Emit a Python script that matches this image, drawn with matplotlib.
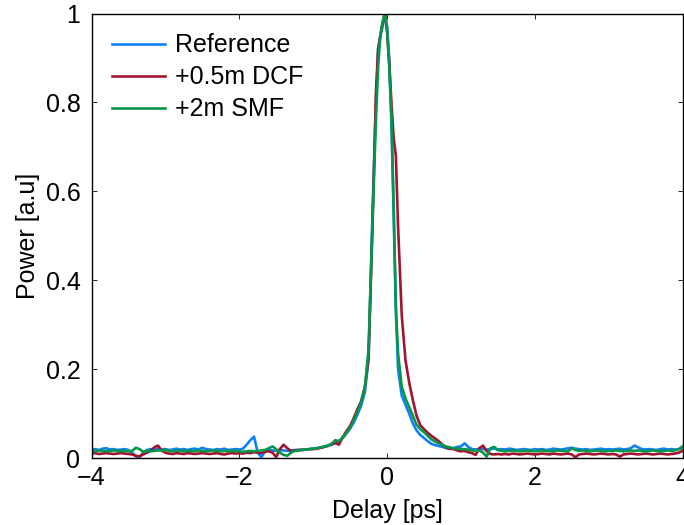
import matplotlib
matplotlib.use("Agg")
import matplotlib.pyplot as plt
import numpy as np

plt.rcParams['font.family'] = ['Liberation Sans', 'DejaVu Sans']

# ---- data ----
delay_left = [-4.00, -3.95, -3.90, -3.85, -3.80, -3.75, -3.70, -3.65, -3.60, -3.55,
              -3.50, -3.45, -3.40, -3.35, -3.30, -3.25, -3.20, -3.15, -3.10, -3.05,
              -3.00, -2.95, -2.90, -2.85, -2.80, -2.75, -2.70, -2.65, -2.60, -2.55,
              -2.50, -2.45, -2.40, -2.35, -2.30, -2.25, -2.20, -2.15, -2.10, -2.05,
              -2.00, -1.95, -1.90, -1.85, -1.80, -1.75, -1.70, -1.65, -1.60, -1.55,
              -1.50, -1.45, -1.40, -1.35, -1.30, -1.25, -1.20, -1.15, -1.10, -1.05]
delay_mid = [-1.00, -0.95, -0.90, -0.85, -0.80, -0.75, -0.70, -0.65, -0.60, -0.55,
             -0.50, -0.45, -0.40, -0.35, -0.30, -0.25, -0.20,
             -0.15, -0.12, -0.09, -0.06, -0.03, 0.00, 0.03, 0.06, 0.09, 0.12, 0.15,
             0.20, 0.25, 0.30, 0.35, 0.40, 0.45, 0.50, 0.55, 0.60, 0.65, 0.70,
             0.75, 0.80, 0.85, 0.90, 0.95, 1.00]
delay_right = [1.05, 1.10, 1.15, 1.20, 1.25, 1.30, 1.35, 1.40, 1.45, 1.50,
               1.55, 1.60, 1.65, 1.70, 1.75, 1.80, 1.85, 1.90, 1.95, 2.00,
               2.05, 2.10, 2.15, 2.20, 2.25, 2.30, 2.35, 2.40, 2.45, 2.50,
               2.55, 2.60, 2.65, 2.70, 2.75, 2.80, 2.85, 2.90, 2.95, 3.00,
               3.05, 3.10, 3.15, 3.20, 3.25, 3.30, 3.35, 3.40, 3.45, 3.50,
               3.55, 3.60, 3.65, 3.70, 3.75, 3.80, 3.85, 3.90, 3.95, 4.00]

reference = [
    0.019, 0.020, 0.018, 0.021, 0.022, 0.019, 0.020, 0.018, 0.019, 0.020,
    0.018, 0.012, 0.004, 0.002, 0.012, 0.018, 0.020, 0.019, 0.021, 0.019,
    0.020, 0.018, 0.019, 0.021, 0.019, 0.020, 0.018, 0.020, 0.021, 0.019,
    0.023, 0.020, 0.019, 0.018, 0.020, 0.019, 0.021, 0.018, 0.019, 0.020,
    0.019, 0.021, 0.030, 0.040, 0.048, 0.012, 0.002, 0.015, 0.018, 0.017,
    0.016, 0.018, 0.017, 0.016, 0.017, 0.018, 0.018, 0.019, 0.019, 0.020,
    # mid
    0.021, 0.022, 0.023, 0.025, 0.027, 0.030, 0.033, 0.038, 0.045, 0.055,
    0.066, 0.080, 0.098, 0.118, 0.148, 0.220, 0.530,
    0.800, 0.920, 0.950, 0.970, 1.000, 0.970, 0.900, 0.750, 0.550, 0.330, 0.200,
    0.140, 0.120, 0.100, 0.078, 0.062, 0.052, 0.045, 0.038, 0.032, 0.029, 0.027,
    0.025, 0.022, 0.021, 0.022, 0.025, 0.026,
    # right
    0.033, 0.025, 0.020, 0.019, 0.021, 0.020, 0.019, 0.020, 0.021, 0.019,
    0.020, 0.019, 0.021, 0.020, 0.018, 0.019, 0.020, 0.019, 0.018, 0.020,
    0.019, 0.020, 0.018, 0.019, 0.021, 0.020, 0.019, 0.020, 0.022, 0.023,
    0.021, 0.020, 0.019, 0.020, 0.018, 0.019, 0.020, 0.021, 0.019, 0.020,
    0.019, 0.020, 0.021, 0.019, 0.020, 0.022, 0.028, 0.024, 0.020, 0.019,
    0.020, 0.019, 0.018, 0.020, 0.021, 0.019, 0.020, 0.019, 0.020, 0.022]

dcf = [
    0.010, 0.011, 0.009, 0.010, 0.011, 0.010, 0.009, 0.010, 0.011, 0.010,
    0.009, 0.008, 0.005, 0.004, 0.008, 0.012, 0.016, 0.024, 0.028, 0.017,
    0.012, 0.010, 0.009, 0.011, 0.010, 0.009, 0.011, 0.010, 0.009, 0.010,
    0.011, 0.010, 0.009, 0.010, 0.011, 0.009, 0.008, 0.010, 0.011, 0.010,
    0.011, 0.010, 0.012, 0.011, 0.013, 0.012, 0.011, 0.014, 0.015, 0.012,
    0.002, 0.020, 0.030, 0.022, 0.016, 0.017, 0.018, 0.018, 0.019, 0.020,
    # mid
    0.020, 0.021, 0.023, 0.025, 0.028, 0.031, 0.034, 0.030, 0.047, 0.060,
    0.072, 0.090, 0.110, 0.128, 0.160, 0.225, 0.500,
    0.820, 0.920, 0.950, 0.980, 1.000, 0.960, 0.890, 0.800, 0.720, 0.680, 0.520,
    0.320, 0.220, 0.170, 0.130, 0.095, 0.074, 0.065, 0.057, 0.050, 0.044, 0.038,
    0.030, 0.024, 0.021, 0.020, 0.017, 0.015,
    # right
    0.016, 0.013, 0.011, 0.007, 0.022, 0.028, 0.015, 0.009, 0.008, 0.009,
    0.008, 0.009, 0.008, 0.010, 0.009, 0.008, 0.009, 0.010, 0.009, 0.008,
    0.009, 0.010, 0.009, 0.008, 0.010, 0.009, 0.008, 0.009, 0.010, 0.008,
    0.002, 0.008, 0.009, 0.010, 0.009, 0.008, 0.009, 0.010, 0.009, 0.008,
    0.009, 0.008, 0.003, 0.008, 0.009, 0.010, 0.009, 0.008, 0.009, 0.010,
    0.009, 0.008, 0.009, 0.010, 0.009, 0.008, 0.009, 0.010, 0.012, 0.016]

smf = [
    0.016, 0.015, 0.017, 0.016, 0.015, 0.016, 0.017, 0.016, 0.015, 0.016,
    0.015, 0.016, 0.023, 0.020, 0.014, 0.016, 0.015, 0.016, 0.017, 0.016,
    0.019, 0.016, 0.015, 0.016, 0.017, 0.015, 0.016, 0.016, 0.015, 0.017,
    0.016, 0.015, 0.016, 0.017, 0.016, 0.015, 0.016, 0.015, 0.016, 0.016,
    0.015, 0.014, 0.015, 0.016, 0.015, 0.016, 0.017, 0.018, 0.022, 0.026,
    0.020, 0.012, 0.007, 0.005, 0.012, 0.016, 0.017, 0.018, 0.019, 0.020,
    # mid
    0.021, 0.022, 0.024, 0.026, 0.028, 0.032, 0.040, 0.038, 0.046, 0.056,
    0.068, 0.085, 0.105, 0.125, 0.158, 0.245, 0.510,
    0.760, 0.880, 0.950, 0.980, 1.000, 0.970, 0.880, 0.770, 0.570, 0.340, 0.235,
    0.160, 0.134, 0.115, 0.095, 0.075, 0.065, 0.058, 0.050, 0.042, 0.037, 0.033,
    0.029, 0.026, 0.024, 0.022, 0.021, 0.020,
    # right
    0.020, 0.019, 0.017, 0.016, 0.017, 0.012, 0.003, 0.022, 0.025, 0.018,
    0.016, 0.015, 0.016, 0.017, 0.016, 0.015, 0.016, 0.017, 0.016, 0.015,
    0.016, 0.017, 0.016, 0.015, 0.016, 0.017, 0.016, 0.016, 0.015, 0.022,
    0.018, 0.016, 0.017, 0.016, 0.015, 0.016, 0.017, 0.016, 0.015, 0.016,
    0.016, 0.017, 0.016, 0.015, 0.016, 0.017, 0.016, 0.017, 0.016, 0.015,
    0.016, 0.017, 0.016, 0.015, 0.016, 0.017, 0.016, 0.017, 0.020, 0.026]

series_labels = ['Reference', '+0.5m DCF', '+2m SMF']
series_colors = ['#0F80F4', '#A2142F', '#04974B']
x_ticks = [-4, -2, 0, 2, 4]
y_ticks = [0, 0.2, 0.4, 0.6, 0.8, 1]
y_ticklabels = ['0', '0.2', '0.4', '0.6', '0.8', '1']

# ---- figure ----
FS = 18
delay = np.array(delay_left + delay_mid + delay_right)
fig = plt.figure(figsize=(6.84, 5.25), dpi=100)
ax = fig.add_axes([91.5 / 684, 67 / 525, 591 / 684, 444.5 / 525])

for ys, lab, col in zip([reference, dcf, smf], series_labels, series_colors):
    ax.plot(delay, ys, color=col, lw=1.9, label=lab)

ax.set_xlim(-4, 4)
ax.set_ylim(0, 1)
ax.set_xticks(x_ticks)
ax.set_yticks(y_ticks)
ax.set_yticklabels(y_ticklabels)
ax.tick_params(direction='in', length=3.6, width=0.6, labelsize=FS,
               top=True, right=True)
ax.tick_params(axis='x', pad=6)
ax.tick_params(axis='y', pad=8)
for sp in ax.spines.values():
    sp.set_linewidth(1.0)
ax.set_xlabel('Delay [ps]', fontsize=FS, labelpad=6)
ax.set_ylabel('Power [a.u]', fontsize=FS, labelpad=4)

leg = ax.legend(loc='upper left', frameon=False, fontsize=FS,
                handlelength=2.15, handletextpad=0.38, labelspacing=0.32,
                borderaxespad=0.45, borderpad=0.35)

fig.savefig('out.png', dpi=100)
